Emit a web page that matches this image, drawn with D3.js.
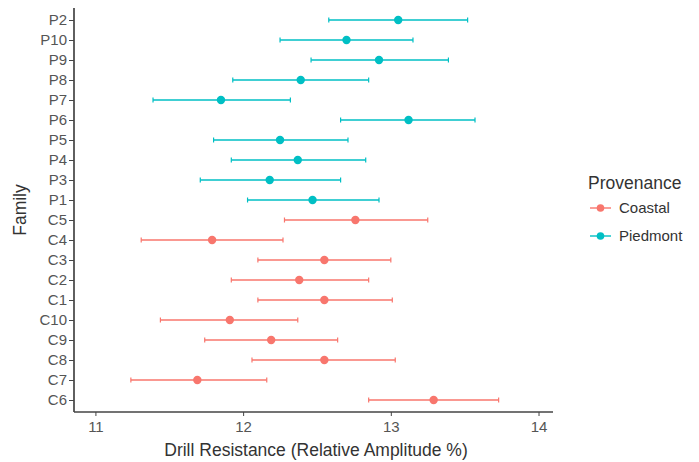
<!DOCTYPE html>
<html>
<head>
<meta charset="utf-8">
<script src="https://cdn.jsdelivr.net/npm/d3@7"></script>
<style>
  html, body { margin: 0; padding: 0; background: #fff; }
  svg { display: block; font-family: "Liberation Sans", Arial, sans-serif; }
</style>
</head>
<body>
<svg id="chart" width="699" height="462"></svg>
<script>
// Family order, top to bottom
const families = ["P2","P10","P9","P8","P7","P6","P5","P4","P3","P1",
                  "C5","C4","C3","C2","C1","C10","C9","C8","C7","C6"];
const provenance = ["Piedmont","Piedmont","Piedmont","Piedmont","Piedmont",
                    "Piedmont","Piedmont","Piedmont","Piedmont","Piedmont",
                    "Coastal","Coastal","Coastal","Coastal","Coastal",
                    "Coastal","Coastal","Coastal","Coastal","Coastal"];
// Mean drill resistance and its interval bounds
const means = [13.05,12.70,12.92,12.39,11.85,13.12,12.25,12.37,12.18,12.47,
               12.76,11.79,12.55,12.38,12.55,11.91,12.19,12.55,11.69,13.29];
const lower = [12.58,12.25,12.46,11.93,11.39,12.66,11.80,11.92,11.71,12.03,
               12.28,11.31,12.10,11.92,12.10,11.44,11.74,12.06,11.24,12.85];
const upper = [13.52,13.15,13.39,12.85,12.32,13.57,12.71,12.83,12.66,12.92,
               13.25,12.27,13.00,12.85,13.01,12.37,12.64,13.03,12.16,13.73];
const xTicks = [11, 12, 13, 14];
const groups = ["Coastal", "Piedmont"];
const groupColors = ["#F8766D", "#00BFC4"];

const rows = families.map((f, i) => ({
  family: f, group: provenance[i], mean: means[i], lo: lower[i], hi: upper[i]
}));

const svg = d3.select("#chart");
const mLeft = 74, mRight = 553, mTop = 8, mBottom = 412;

const x = d3.scaleLinear().domain([10.855, 14.098]).range([mLeft, mRight]);
const y = d3.scalePoint().domain(families).range([mTop, mBottom]).padding(0.6);
const color = d3.scaleOrdinal().domain(groups).range(groupColors);

const textCol = "#555";
const titleCol = "#333";

// Error bars with small end caps
const g = svg.append("g");
const bars = g.selectAll("g.bar").data(rows).join("g").attr("class", "bar");
bars.append("line")
  .attr("x1", d => x(d.lo)).attr("x2", d => x(d.hi))
  .attr("y1", d => y(d.family)).attr("y2", d => y(d.family))
  .attr("stroke", d => color(d.group)).attr("stroke-width", 1.4);
bars.append("line")
  .attr("x1", d => x(d.lo)).attr("x2", d => x(d.lo))
  .attr("y1", d => y(d.family) - 2.5).attr("y2", d => y(d.family) + 2.5)
  .attr("stroke", d => color(d.group)).attr("stroke-width", 1.2);
bars.append("line")
  .attr("x1", d => x(d.hi)).attr("x2", d => x(d.hi))
  .attr("y1", d => y(d.family) - 2.5).attr("y2", d => y(d.family) + 2.5)
  .attr("stroke", d => color(d.group)).attr("stroke-width", 1.2);
bars.append("circle")
  .attr("cx", d => x(d.mean)).attr("cy", d => y(d.family))
  .attr("r", 4.2).attr("fill", d => color(d.group));

// Axes
const xAxis = svg.append("g")
  .attr("transform", `translate(0,${mBottom})`)
  .call(d3.axisBottom(x).tickValues(xTicks).tickSize(4).tickPadding(5).tickFormat(d3.format("d")));
const yAxis = svg.append("g")
  .attr("transform", `translate(${mLeft},0)`)
  .call(d3.axisLeft(y).tickSize(5).tickPadding(2));
xAxis.select(".domain").attr("d", `M${mLeft},0H${mRight}`);
yAxis.select(".domain").attr("d", `M0,${mTop}V${mBottom}`);
[xAxis, yAxis].forEach(a => {
  a.select(".domain").attr("stroke", "#444").attr("stroke-width", 1.7);
  a.selectAll(".tick line").attr("stroke", "#444").attr("stroke-width", 1);
  a.selectAll(".tick text").attr("fill", textCol).style("font-size", "15px");
});

// Axis titles
svg.append("text")
  .attr("x", 316).attr("y", 456)
  .attr("text-anchor", "middle").attr("fill", titleCol)
  .style("font-size", "17.5px")
  .text("Drill Resistance (Relative Amplitude %)");
svg.append("text")
  .attr("transform", `translate(26,${(mTop + mBottom) / 2}) rotate(-90)`)
  .attr("text-anchor", "middle").attr("fill", titleCol)
  .style("font-size", "17.5px")
  .text("Family");

// Legend
const legend = svg.append("g");
legend.append("text")
  .attr("x", 588).attr("y", 189)
  .attr("fill", titleCol).style("font-size", "17.5px")
  .text("Provenance");
const items = legend.selectAll("g.item").data(groups).join("g").attr("class", "item")
  .attr("transform", (d, i) => `translate(0,${208 + i * 28})`);
items.append("line")
  .attr("x1", 590).attr("x2", 611).attr("y1", 0).attr("y2", 0)
  .attr("stroke", d => color(d)).attr("stroke-width", 1.4);
items.append("circle")
  .attr("cx", 600.5).attr("cy", 0).attr("r", 3.8).attr("fill", d => color(d));
items.append("text")
  .attr("x", 619).attr("y", 0).attr("dy", "0.35em")
  .attr("fill", titleCol).style("font-size", "15px")
  .text(d => d);
</script>
</body>
</html>
